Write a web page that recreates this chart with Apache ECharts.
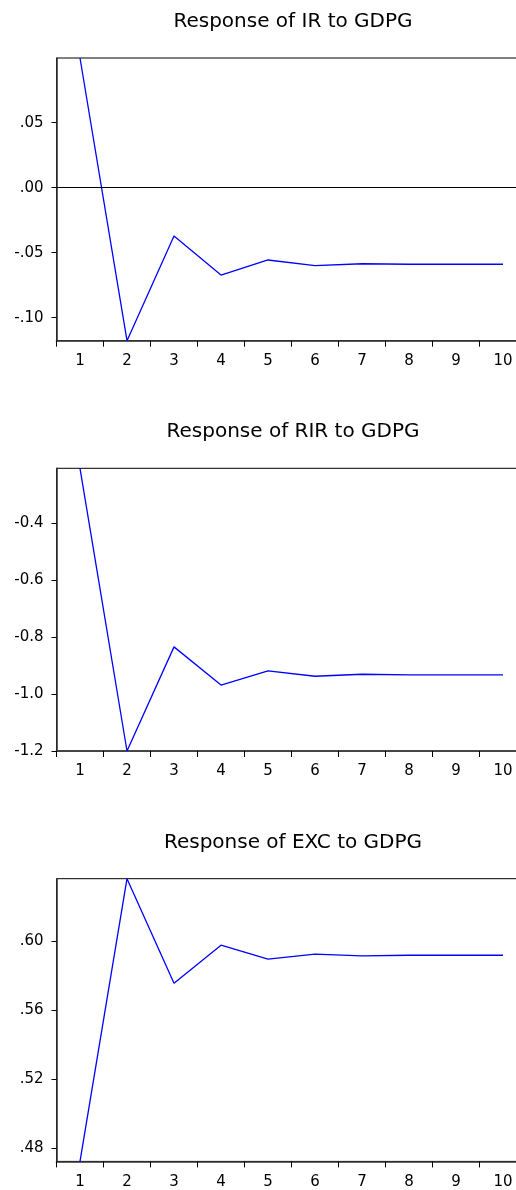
<!DOCTYPE html>
<html>
<head>
<meta charset="utf-8">
<script src="https://cdn.jsdelivr.net/npm/echarts@6/dist/echarts.min.js"></script>
<style>
html,body{margin:0;padding:0;background:#fff;}
#chart{width:516px;height:1190px;}
</style>
</head>
<body>
<div id="chart"></div>
<script>
// periods on the x axis
const periods = ['1','2','3','4','5','6','7','8','9','10']

// responses
const irValues  = [0.0998, -0.1177, -0.0372, -0.0672, -0.0556, -0.0600, -0.0585, -0.0589, -0.0589, -0.0589]
const rirValues = [-0.209, -1.200, -0.835, -0.969, -0.919, -0.938, -0.931, -0.933, -0.933, -0.933]
const excValues = [0.4723, 0.6363, 0.5756, 0.5977, 0.5896, 0.5926, 0.5915, 0.5919, 0.5919, 0.5919]

// y tick labels
const irTicks  = [0.05, 0.00, -0.05, -0.10]
const rirTicks = [-0.4, -0.6, -0.8, -1.0, -1.2]
const excTicks = [0.60, 0.56, 0.52, 0.48]

const titles = ['Response of IR to GDPG', 'Response of RIR to GDPG', 'Response of EXC to GDPG']

const font = '"DejaVu Sans", Arial, sans-serif'
const panelTops = [58, 468.3, 878.7]
const titleY = [20, 430, 841]
const plotH = 282.7

// drop leading zero like eviews does (.05, -.10)
function noZero(dec){
    return v => {
        let s = Number(v).toFixed(dec)
        if (dec === 2) s = s.replace(/^(-?)0\./, '$1.')
        return s
    }
}

const panels = [
    {data: irValues, ticks: irTicks, fmt: noZero(2), zero: true},
    {data: rirValues, ticks: rirTicks, fmt: noZero(1), zero: false},
    {data: excValues, ticks: excTicks, fmt: noZero(2), zero: false}
]

const option = {
    animation: false,
    backgroundColor: '#fff',
    title: titles.map((t, i) => ({
        text: t,
        left: 288,
        top: titleY[i] - 13,
        textAlign: 'center',
        textStyle: {fontFamily: font, fontSize: 20, fontWeight: 'normal', color: '#000'}
    })),
    // plot area runs past the right edge, like the cropped original
    grid: panels.map((p, i) => ({
        left: 56.5,
        width: 470,
        top: panelTops[i],
        height: plotH,
        show: true,
        borderColor: '#000',
        borderWidth: 1,
        containLabel: false,
        outerBoundsMode: 'none'
    })),
    xAxis: panels.map((p, i) => ({
        type: 'category',
        gridIndex: i,
        data: periods,
        boundaryGap: true,
        axisLine: {onZero: false, lineStyle: {color: '#333', width: 1.6}},
        axisTick: {show: true, inside: false, length: 6, lineStyle: {color: '#000'}},
        axisLabel: {margin: 13, fontFamily: font, fontSize: 15, color: '#000'},
        splitLine: {show: false}
    })),
    yAxis: panels.map((p, i) => ({
        type: 'value',
        gridIndex: i,
        min: 'dataMin',
        max: 'dataMax',
        axisLine: {show: true, lineStyle: {color: '#333', width: 1.6}},
        axisTick: {show: true, inside: false, length: 5, customValues: p.ticks, lineStyle: {color: '#000'}},
        axisLabel: {margin: 13, fontFamily: font, fontSize: 15, color: '#000', customValues: p.ticks, formatter: p.fmt},
        splitLine: {show: false}
    })),
    series: panels.map((p, i) => ({
        type: 'line',
        xAxisIndex: i,
        yAxisIndex: i,
        data: p.data,
        symbol: 'none',
        lineStyle: {color: '#0000ff', width: 1.3},
        markLine: p.zero ? {
            silent: true,
            symbol: 'none',
            label: {show: false},
            lineStyle: {color: '#000', width: 1, type: 'solid'},
            data: [{yAxis: 0}]
        } : undefined
    }))
}

const myChart = echarts.init(document.getElementById('chart'))
myChart.setOption(option)
</script>
</body>
</html>
